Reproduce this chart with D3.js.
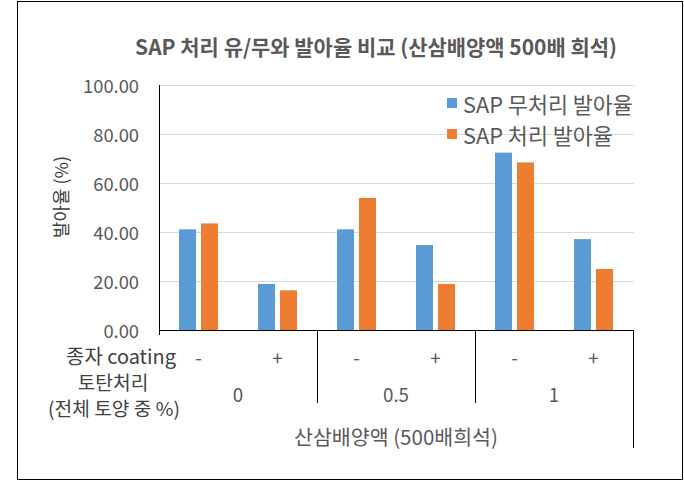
<!DOCTYPE html>
<html><head><meta charset="utf-8">
<script src="https://cdn.jsdelivr.net/npm/d3@7"></script>
<style>
html,body{margin:0;padding:0;background:#fff;}
svg text{font-family:"Noto Sans CJK KR","Noto Sans",sans-serif;}
</style></head>
<body><svg id="c" width="684" height="482"></svg>
<script>
const title = "SAP 처리 유/무와 발아율 비교 (산삼배양액 500배 희석)";
const coating = ["-", "+", "-", "+", "-", "+"];
const peat = ["0", "0.5", "1"];
const seriesNames = ["SAP 무처리 발아율", "SAP 처리 발아율"];
const untreated = [41.1, 18.8, 41.1, 34.7, 72.4, 37.1];
const treated = [43.5, 16.2, 53.9, 18.8, 68.4, 24.9];
const yTicks = [0, 20, 40, 60, 80, 100];
const yTitle = "발아율 (%)";
const rowLabel1 = "종자 coating";
const rowLabel2 = ["토탄처리", "(전체 토양 중 %)"];
const bottomTitle = "산삼배양액 (500배희석)";
const colors = ["#5B9BD5", "#ED7D31"];

const svg = d3.select("#c");
const L = 159, R = 633, T = 85, B = 330;

function fit(sel, target) {
  sel.style("font-size", "20px");
  const w = sel.node().getComputedTextLength();
  const fs = 20 * target / w;
  sel.style("font-size", fs + "px");
  return fs;
}

// border
svg.append("rect").attr("x", 17.5).attr("y", 1.5).attr("width", 665).attr("height", 478)
  .attr("fill", "none").attr("stroke", "#000").attr("stroke-width", 1);

const idx = d3.range(coating.length);
const x0 = d3.scaleBand().domain(idx).range([L, R]).padding(0);
const x1 = d3.scaleBand().domain([0, 1]).range([0, 39]).paddingInner(5 / 22).paddingOuter(0);
const y = d3.scaleLinear().domain([0, 100]).range([B, T]);

// gridlines
svg.append("g").selectAll("line").data(yTicks.filter(d => d > 0)).join("line")
  .attr("x1", L).attr("x2", R + 1).attr("y1", d => y(d) + 0.5).attr("y2", d => y(d) + 0.5)
  .attr("stroke", "#d9d9d9").attr("stroke-width", 1);

// bars
const series = [untreated, treated];
series.forEach((vals, s) => {
  svg.append("g").selectAll("rect").data(vals).join("rect")
    .attr("x", (d, i) => x0(i) + (x0.bandwidth() - 39) / 2 + x1(s))
    .attr("width", x1.bandwidth())
    .attr("y", d => y(d))
    .attr("height", d => y(0) - y(d))
    .attr("fill", colors[s]);
});

// y axis line
svg.append("line").attr("x1", L + 0.5).attr("x2", L + 0.5).attr("y1", T).attr("y2", B + 5)
  .attr("stroke", "#000");
// x axis line
svg.append("line").attr("x1", L).attr("x2", R + 1).attr("y1", B + 0.5).attr("y2", B + 0.5)
  .attr("stroke", "#000");

// y tick labels
const yt = svg.append("g").selectAll("text").data(yTicks).join("text")
  .attr("x", 139).attr("y", d => y(d)).attr("text-anchor", "end")
  .attr("dominant-baseline", "central").attr("fill", "#595959")
  .text(d => d3.format(".2f")(d));
const tfs = fit(yt.filter(d => d === 100), 56);
yt.style("font-size", tfs + "px");

// y title
const ytt = svg.append("text").attr("transform", "translate(60,197) rotate(-90)")
  .attr("text-anchor", "middle").attr("dominant-baseline", "central")
  .attr("fill", "#404040").text(yTitle);
fit(ytt, 82);

// title
const tt = svg.append("text").attr("x", 376).attr("y", 46).attr("text-anchor", "middle")
  .attr("dominant-baseline", "central").attr("fill", "#595959").attr("font-weight", "bold")
  .text(title);
fit(tt, 482);

// legend
const lg = svg.append("g");
const lrows = [103, 134];
const ltexts = lg.selectAll("text").data(seriesNames).join("text")
  .attr("x", 463).attr("y", (d, i) => lrows[i]).attr("dominant-baseline", "central")
  .attr("fill", "#595959").text(d => d);
const lfs = fit(ltexts.filter((d, i) => i === 0), 170);
ltexts.style("font-size", lfs + "px");
lg.selectAll("rect").data(seriesNames).join("rect")
  .attr("x", 447).attr("y", (d, i) => lrows[i] - 5).attr("width", 10).attr("height", 10)
  .attr("fill", (d, i) => colors[i]);

// bottom multi-level axis
const bg = svg.append("g");
const meas = bg.append("text").text(rowLabel2[1]);
const bfs = fit(meas, 136);
meas.remove();
const rl2 = bg.append("text").attr("text-anchor", "middle").attr("fill", "#404040")
  .style("font-size", (bfs * 0.97) + "px");
rl2.selectAll("tspan").data(rowLabel2).join("tspan")
  .attr("x", (d, i) => i === 0 ? 113 : 114)
  .attr("y", (d, i) => i === 0 ? 383 : 409)
  .attr("dy", "0.35em").text(d => d);

const rl1 = bg.append("text").attr("x", 176).attr("y", 355).attr("text-anchor", "end")
  .attr("dominant-baseline", "central").attr("fill", "#404040").text(rowLabel1);
fit(rl1, 110);

bg.selectAll("text.c").data(coating).join("text").attr("class", "c")
  .attr("x", (d, i) => x0(i) + x0.bandwidth() / 2).attr("y", 356)
  .attr("text-anchor", "middle").attr("dominant-baseline", "central")
  .attr("fill", "#595959").style("font-size", (bfs * 0.95) + "px").text(d => d);

const groupW = x0.bandwidth() * 2;
bg.selectAll("text.p").data(peat).join("text").attr("class", "p")
  .attr("x", (d, i) => L + groupW * i + groupW / 2).attr("y", 393)
  .attr("text-anchor", "middle").attr("dominant-baseline", "central")
  .attr("fill", "#595959").style("font-size", (bfs * 0.95) + "px").text(d => d);

const bt = bg.append("text").attr("x", (L + R) / 2).attr("y", 436).attr("text-anchor", "middle")
  .attr("dominant-baseline", "central").attr("fill", "#595959")
  .text(bottomTitle);
fit(bt, 204);

// separators
bg.selectAll("line.s").data([1, 2]).join("line").attr("class", "s")
  .attr("x1", d => Math.round(L + groupW * d) + 0.5).attr("x2", d => Math.round(L + groupW * d) + 0.5)
  .attr("y1", B).attr("y2", 403).attr("stroke", "#000");
bg.append("line").attr("x1", R + 0.5).attr("x2", R + 0.5).attr("y1", B).attr("y2", 448).attr("stroke", "#000");
</script></body></html>
